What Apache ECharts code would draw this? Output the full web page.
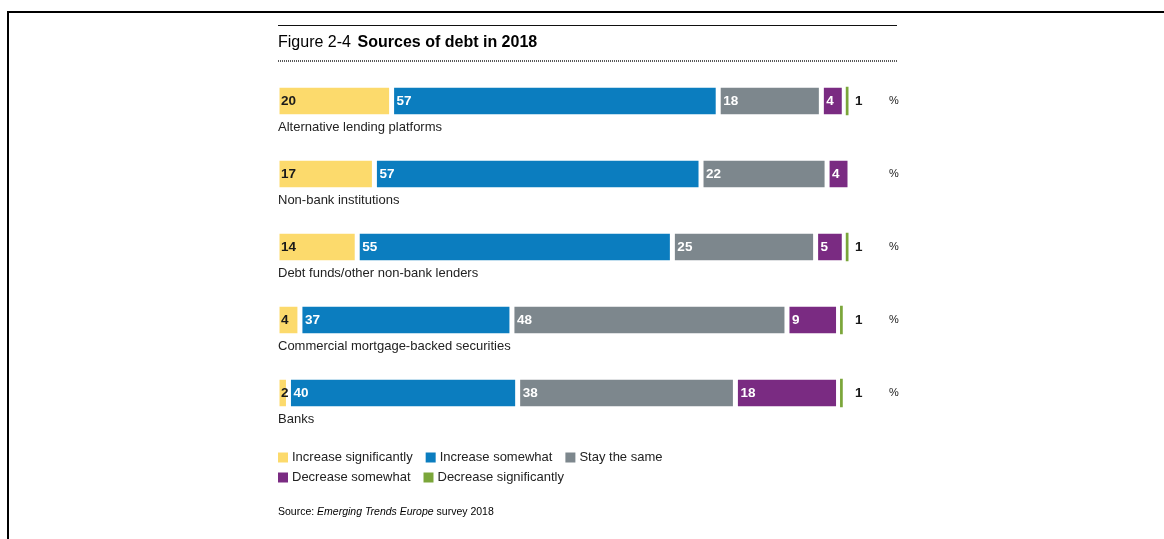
<!DOCTYPE html>
<html><head><meta charset="utf-8">
<script src="https://cdn.jsdelivr.net/npm/echarts@6/dist/echarts.min.js"></script>
<style>html,body{margin:0;padding:0;background:#fff}#c{width:1164px;height:539px}</style>
</head><body><div id="c"></div>
<script>
const categories = ['Alternative lending platforms','Non-bank institutions','Debt funds/other non-bank lenders','Commercial mortgage-backed securities','Banks'];
const seriesNames = ['Increase significantly','Increase somewhat','Stay the same','Decrease somewhat','Decrease significantly'];
const increaseSignificantly = [20,17,14,4,2];
const increaseSomewhat = [57,57,55,37,40];
const stayTheSame = [18,22,25,48,38];
const decreaseSomewhat = [4,4,5,9,18];
const decreaseSignificantly = [1,0,1,1,1];
const unitLabel = '%';

const colors = ['#FCDA6C','#0B7DBF','#7D878D','#7A2B82','#7BA63A'];
const FONT = '"Liberation Sans", Arial, sans-serif';
const NARROW = '"Liberation Sans Narrow", "Arial Narrow", "Liberation Sans", sans-serif';
const values = [increaseSignificantly, increaseSomewhat, stayTheSame, decreaseSomewhat, decreaseSignificantly];

const series = values.map((arr, i) => ({
  name: seriesNames[i],
  type: 'bar',
  stack: 'total',
  barWidth: 31.5,
  data: arr,
  itemStyle: {color: colors[i], borderColor: '#fff', borderWidth: i === 4 ? 1.5 : 2.5},
  label: {
    show: i !== 4,
    position: 'insideLeft',
    distance: i === 0 ? 4 : 5,
    fontFamily: NARROW, fontWeight: 'bold', fontSize: 13.5,
    color: i === 0 ? '#1a1a1a' : '#fff',
    formatter: p => p.value ? String(p.value) : ''
  },
  emphasis: {disabled: true}
}));

const legendCommon = {
  left: 278, orient: 'horizontal', icon: 'rect',
  itemWidth: 10, itemHeight: 10, itemGap: 13, padding: 0, selectedMode: false,
  itemStyle: {borderWidth: 0},
  textStyle: {fontFamily: FONT, fontSize: 13, color: '#222', padding: [0,0,0,-1]}
};

const rightAxis = (margin, fmt, font, weight, size) => ({
  type: 'category', data: categories, inverse: true, position: 'right',
  axisLine: {show: false}, axisTick: {show: false}, splitLine: {show: false},
  axisLabel: {margin: margin, align: 'left', fontFamily: font, fontSize: size, fontWeight: weight,
              color: '#1a1a1a', formatter: fmt}
});

const chart = echarts.init(document.getElementById('c'), null, {renderer: 'canvas'});
chart.setOption({
  animation: false,
  backgroundColor: '#fff',
  grid: {left: 277, width: 573, top: 64.5, height: 365},
  xAxis: {type: 'value', min: 0, max: 100, show: false},
  yAxis: [
    {type: 'category', data: categories, inverse: true,
     axisLine: {show: false}, axisTick: {show: false}, splitLine: {show: false},
     axisLabel: {inside: true, margin: 1, align: 'left', verticalAlign: 'top', padding: [20,0,0,0],
                 fontFamily: FONT, fontSize: 13, color: '#222'}},
    rightAxis(5, (v, idx) => decreaseSignificantly[idx] ? String(decreaseSignificantly[idx]) : '', NARROW, 'bold', 13.5),
    rightAxis(39, () => unitLabel, FONT, 'normal', 11)
  ],
  legend: [
    Object.assign({data: seriesNames.slice(0,3), top: 451}, legendCommon),
    Object.assign({data: seriesNames.slice(3), top: 471}, legendCommon)
  ],
  graphic: [
    {type: 'line', shape: {x1: 8, y1: 11, x2: 8, y2: 539}, style: {stroke: '#000', lineWidth: 2}},
    {type: 'line', shape: {x1: 7, y1: 12, x2: 1164, y2: 12}, style: {stroke: '#000', lineWidth: 2}},
    {type: 'line', shape: {x1: 278, y1: 25.5, x2: 897, y2: 25.5}, style: {stroke: '#111', lineWidth: 1.2}},
    {type: 'line', shape: {x1: 278, y1: 61, x2: 897, y2: 61}, style: {stroke: '#222', lineWidth: 1.5, lineDash: [1,1]}},
    {type: 'text', left: 278, top: 35,
     style: {text: '{n|Figure 2-4}  {b|Sources of debt in 2018}',
             rich: {n: {fontFamily: FONT, fontSize: 16, color: '#222'},
                    b: {fontFamily: FONT, fontSize: 16, fontWeight: 'bold', color: '#111'}}}},
    {type: 'text', left: 278, top: 507,
     style: {text: '{n|Source: }{i|Emerging Trends Europe}{n| survey 2018}',
             rich: {n: {fontFamily: FONT, fontSize: 10.5, color: '#222'},
                    i: {fontFamily: FONT, fontSize: 10.5, fontStyle: 'italic', color: '#222'}}}}
  ],
  series: series
});
</script></body></html>
